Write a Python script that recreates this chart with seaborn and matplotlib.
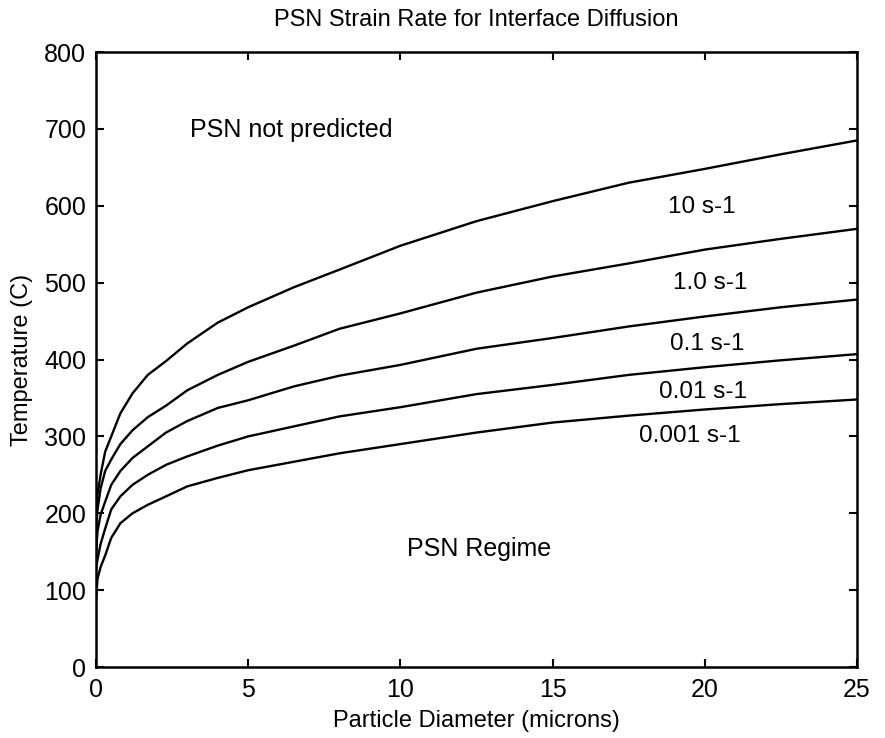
import numpy as np
import pandas as pd
import matplotlib
matplotlib.use('Agg')
import matplotlib.pyplot as plt
import seaborn as sns

# particle diameter (microns)
diameter = [0, 0.05, 0.15, 0.3, 0.5, 0.8, 1.2, 1.7, 2.3, 3, 4, 5, 6.5, 8,
            10, 12.5, 15, 17.5, 20, 22.5, 25]

# temperature (C) for each strain rate
temp_10 = [195, 225, 250, 280, 300, 330, 356, 380, 398, 421, 448, 468, 494, 517,
           548, 580, 606, 630, 648, 667, 685]
temp_1 = [180, 205, 232, 255, 270, 290, 308, 325, 340, 360, 380, 397, 418, 440,
          460, 487, 508, 525, 543, 557, 570]
temp_01 = [148, 177, 198, 215, 237, 255, 272, 287, 305, 320, 337, 347, 365, 379,
           393, 414, 428, 443, 456, 468, 478]
temp_001 = [128, 140, 160, 180, 205, 222, 237, 250, 263, 274, 288, 300, 313, 326,
            338, 355, 367, 380, 390, 399, 407]
temp_0001 = [87, 115, 130, 145, 168, 187, 200, 211, 222, 235, 246, 256, 267, 278,
             290, 305, 318, 327, 335, 342, 348]

curve_labels = ['10 s-1', '1.0 s-1', '0.1 s-1', '0.01 s-1', '0.001 s-1']
label_pos = [(18.8, 598), (18.95, 500), (18.85, 420), (18.5, 358), (17.85, 301)]

sns.set_style('ticks')
plt.rcParams['font.family'] = ['Liberation Sans', 'DejaVu Sans']
plt.rcParams['text.color'] = 'black'
plt.rcParams['axes.labelcolor'] = 'black'
plt.rcParams['xtick.color'] = 'black'
plt.rcParams['ytick.color'] = 'black'

fig = plt.figure(figsize=(8.85, 7.38), dpi=100)
ax = fig.add_axes([0.1085, 0.0962, 0.8599, 0.8333])

for vals in [temp_10, temp_1, temp_01, temp_001, temp_0001]:
    sns.lineplot(x=diameter, y=vals, color='black', linewidth=1.7, ax=ax)

for txt, (tx, ty) in zip(curve_labels, label_pos):
    ax.text(tx, ty, txt, fontsize=17.5, va='center', ha='left')

ax.text(3.1, 698, 'PSN not predicted', fontsize=18, va='center', ha='left')
ax.text(10.2, 154, 'PSN Regime', fontsize=18, va='center', ha='left')

ax.set_xlim(0, 25)
ax.set_ylim(0, 800)
ax.set_xticks([0, 5, 10, 15, 20, 25])
ax.set_yticks(range(0, 801, 100))
ax.tick_params(direction='in', length=6, width=1.5, top=True, right=True,
               labelsize=18, colors='black')
ax.tick_params(axis='y', pad=7)
ax.tick_params(axis='x', pad=8)
for s in ax.spines.values():
    s.set_visible(True)
    s.set_linewidth(1.8)
    s.set_color('black')

ax.set_xlabel('Particle Diameter (microns)', fontsize=17, labelpad=6)
ax.set_ylabel('Temperature (C)', fontsize=17, labelpad=8)
ax.set_title('PSN Strain Rate for Interface Diffusion', fontsize=17, pad=19,
             color='black')

fig.savefig('out.png', dpi=100, facecolor='white')
